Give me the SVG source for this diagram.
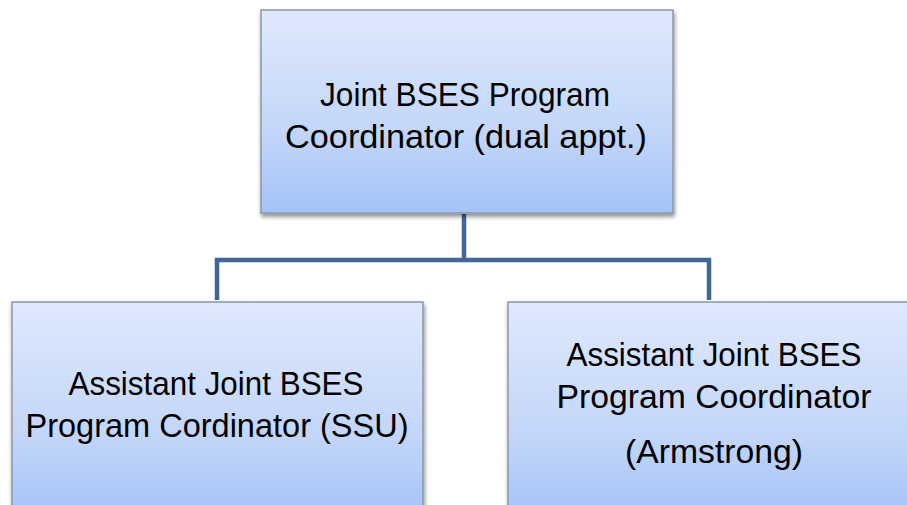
<svg xmlns="http://www.w3.org/2000/svg" width="907" height="505" viewBox="0 0 907 505">
<defs>
<linearGradient id="g" x1="0" y1="0" x2="0" y2="1">
<stop offset="0" stop-color="#dfe9fc"/>
<stop offset="0.6" stop-color="#c3d6f9"/>
<stop offset="1" stop-color="#a3c2f7"/>
</linearGradient>
<filter id="sh" x="-5%" y="-5%" width="115%" height="115%">
<feGaussianBlur in="SourceAlpha" stdDeviation="2"/>
<feOffset dx="1" dy="3" result="b"/>
<feComponentTransfer><feFuncA type="linear" slope="0.45"/></feComponentTransfer>
<feMerge><feMergeNode/><feMergeNode in="SourceGraphic"/></feMerge>
</filter>
</defs>
<style>
.box{fill:url(#g);stroke:#8c96a8;stroke-width:1.5;filter:url(#sh)}
.t{font-family:"Liberation Sans",Arial,sans-serif;font-size:34px;fill:#000;text-anchor:middle}
.c{fill:none;stroke:#3f6696;stroke-width:4.5}
</style>
<rect width="907" height="505" fill="#fff"/>
<g id="connectors">
<path class="c" d="M464 214 V260 M217 300 V260 H709 V300"/>
</g>
<g id="top">
<rect class="box" x="261" y="10" width="412" height="203"/>
<text class="t" x="465" y="106" textLength="290" lengthAdjust="spacingAndGlyphs">Joint BSES Program</text>
<text class="t" x="466" y="148" textLength="362" lengthAdjust="spacingAndGlyphs">Coordinator (dual appt.)</text>
</g>
<g id="ssu">
<rect class="box" x="12" y="302" width="411" height="220"/>
<text class="t" x="216" y="395" textLength="295" lengthAdjust="spacingAndGlyphs">Assistant Joint BSES</text>
<text class="t" x="217" y="437" textLength="383" lengthAdjust="spacingAndGlyphs">Program Cordinator (SSU)</text>
</g>
<g id="armstrong">
<rect class="box" x="508" y="302" width="420" height="220"/>
<text class="t" x="714" y="366" textLength="295" lengthAdjust="spacingAndGlyphs">Assistant Joint BSES</text>
<text class="t" x="714" y="408" textLength="315" lengthAdjust="spacingAndGlyphs">Program Coordinator</text>
<text class="t" x="714" y="463" textLength="178" lengthAdjust="spacingAndGlyphs">(Armstrong)</text>
</g>
</svg>
